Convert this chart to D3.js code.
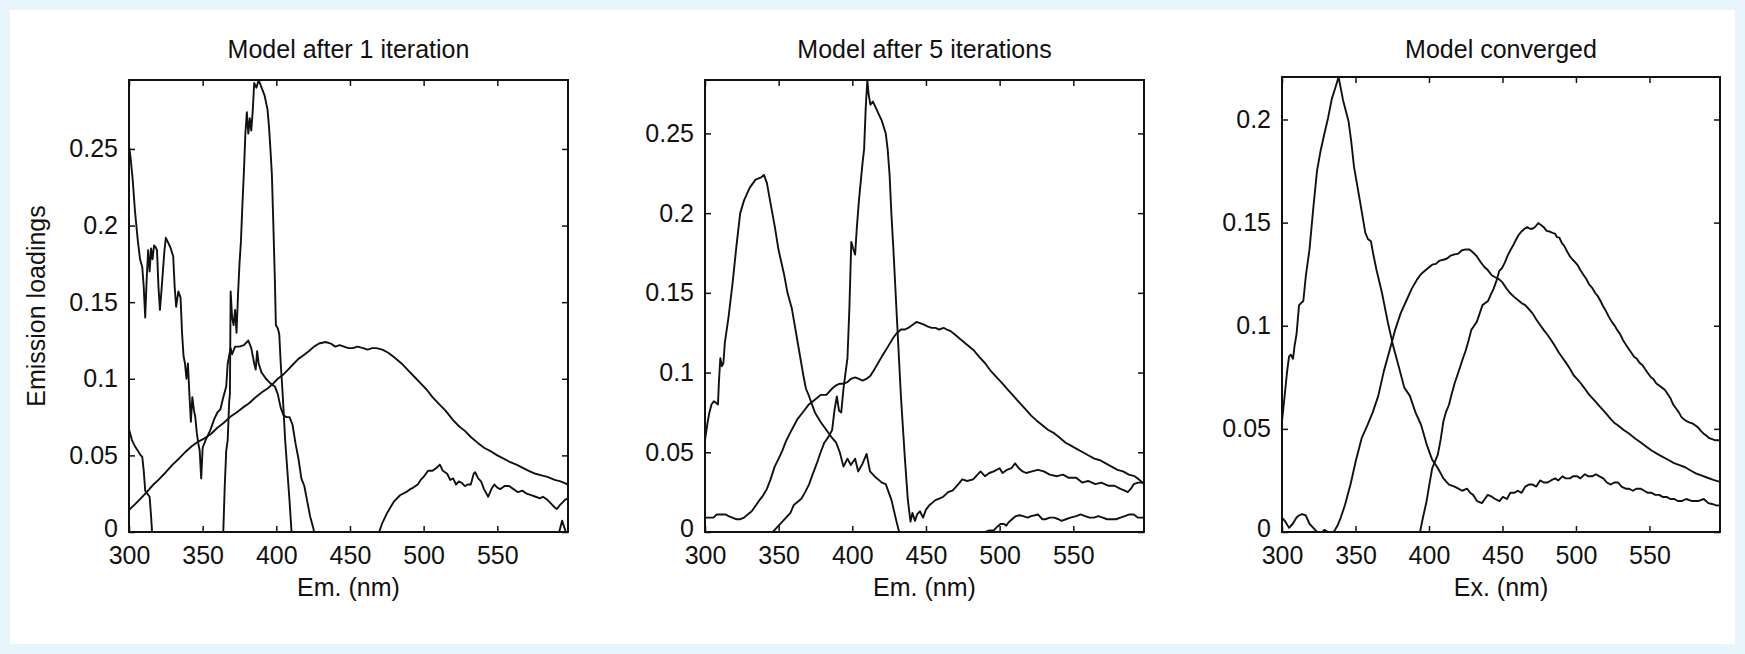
<!DOCTYPE html>
<html><head><meta charset="utf-8">
<script src="https://cdn.jsdelivr.net/npm/d3@7"></script>
<style>
html,body{margin:0;padding:0;background:#e9f5fd;}
svg{display:block;}
text{font-family:"Liberation Sans",Arial,Helvetica,sans-serif;fill:#111;}
</style></head><body>
<svg id="chart" width="1745" height="654"></svg>
<script>
// ---------- data ----------
const titles = ["Model after 1 iteration", "Model after 5 iterations", "Model converged"];
const xLabels = ["Em. (nm)", "Em. (nm)", "Ex. (nm)"];
const yLabel = "Emission loadings";
const xTicks = [300, 350, 400, 450, 500, 550];
const xDomain = [300, 598];
const yTicksA = [0, 0.05, 0.1, 0.15, 0.2, 0.25];
const yTicksB = [0, 0.05, 0.1, 0.15, 0.2];
const yMax = [0.295, 0.2835, 0.2206];

// panel 1
const p1a = [[300,0.252],[301,0.245],[302.5,0.23],[304,0.21],[306,0.19],[307.5,0.178],[309,0.173],[310,0.16],[311,0.14],[312,0.165],[313,0.184],[314,0.17],[315,0.185],[316,0.178],[317,0.187],[318,0.186],[319,0.184],[320,0.16],[321,0.145],[322,0.157],[323,0.17],[324,0.183],[325,0.192],[326,0.19],[328,0.186],[330,0.18],[331,0.16],[332,0.147],[333.5,0.157],[335,0.153],[336,0.13],[337,0.115],[338,0.11],[339,0.1],[340,0.11],[341,0.09],[342,0.072],[343,0.088],[344,0.08],[345,0.075],[346,0.065],[347,0.058],[348,0.053],[349,0.035],[350,0.055],[352,0.06],[355,0.066],[358,0.074],[360,0.078],[362,0.08],[364,0.088],[366,0.095],[367,0.11],[368,0.115],[369,0.12],[370,0.116],[372,0.121],[375,0.121],[378,0.122],[381,0.125],[383,0.12],[385,0.11],[386,0.106],[387,0.118],[388,0.11],[390,0.104],[393,0.1],[396,0.097],[399,0.095],[401,0.09],[403,0.081],[405,0.076],[407,0.075],[409,0.075],[411,0.07],[413,0.058],[415,0.048],[417,0.035],[419,0.03],[421,0.02],[423,0.01],[425,0.003],[427,-0.006],[430,-0.03],[598,-0.03]];
const p1b = [[300,-0.03],[362,-0.02],[364,0],[365,0.03],[366,0.053],[367,0.06],[368,0.085],[368.5,0.09],[369,0.157],[370,0.14],[371,0.135],[372,0.145],[373,0.13],[374,0.155],[375,0.175],[376,0.19],[377,0.214],[378,0.235],[379,0.26],[380,0.274],[381,0.26],[382,0.27],[383,0.262],[384,0.275],[385,0.293],[386.5,0.29],[388,0.295],[390,0.29],[392,0.285],[394,0.276],[395,0.265],[396,0.25],[397,0.233],[398,0.2],[399,0.165],[399.7,0.135],[401,0.133],[402,0.129],[403,0.11],[404,0.095],[405,0.078],[406,0.06],[407.5,0.04],[409,0.02],[410,0.005],[411,-0.01],[413,-0.03],[588,-0.03],[590.5,-0.005],[592,0],[594,0.0074],[596.5,0],[598,-0.01]];
const p1c = [[300,0.0144],[304,0.018],[308,0.022],[312,0.026],[316.6,0.031],[320,0.034],[325,0.039],[329.6,0.044],[334,0.048],[338,0.052],[342.6,0.056],[347,0.059],[351,0.061],[355.6,0.064],[360,0.068],[364,0.071],[368.5,0.075],[373,0.078],[377,0.081],[381.5,0.084],[386,0.088],[390,0.091],[394.5,0.094],[398,0.097],[401,0.1],[405,0.103],[408,0.106],[411,0.109],[415,0.113],[418,0.115],[422,0.118],[425.6,0.121],[429,0.123],[433.4,0.124],[437,0.123],[440,0.121],[443,0.122],[446,0.121],[449,0.12],[452,0.12],[455,0.121],[459,0.12],[462,0.119],[465,0.12],[468,0.12],[472,0.119],[476,0.117],[480,0.114],[485,0.11],[490,0.105],[494,0.101],[498,0.097],[502,0.093],[506,0.088],[511,0.083],[515,0.079],[520,0.073],[524,0.069],[528,0.066],[532,0.062],[537,0.058],[541,0.055],[545,0.053],[550,0.05],[554,0.048],[558,0.046],[563,0.044],[567,0.042],[571,0.04],[576,0.038],[580,0.037],[584,0.036],[589,0.034],[593,0.033],[598,0.031]];
const p1d = [[300,0.067],[302,0.06],[304,0.056],[306,0.053],[308,0.05],[309,0.049],[310,0.04],[311,0.027],[312.5,0.025],[314,0.023],[315,0.01],[316,-0.005],[318,-0.03],[466,-0.03],[469.8,0],[472,0.006],[475,0.012],[478,0.017],[480,0.02],[484,0.024],[488,0.026],[491,0.028],[493,0.029],[496,0.031],[498,0.034],[500,0.036],[503,0.04],[506,0.04],[509,0.042],[511,0.044],[513,0.04],[516,0.038],[518,0.034],[520,0.035],[522,0.031],[524,0.033],[526,0.032],[528,0.03],[530,0.031],[532,0.031],[534,0.038],[535,0.039],[537,0.035],[539,0.033],[541,0.028],[543.8,0.023],[546,0.028],[548,0.031],[550,0.029],[552,0.028],[555,0.03],[558,0.03],[561,0.028],[564,0.026],[567,0.027],[570,0.025],[573,0.024],[576,0.023],[579,0.022],[581,0.023],[584,0.021],[587,0.018],[589,0.016],[590.5,0.015],[592,0.017],[594,0.019],[596,0.021],[598,0.022]];

// panel 2
const p2a = [[300,0.0576],[301.8,0.069],[303,0.075],[304.4,0.08],[306,0.082],[307.5,0.081],[308.8,0.08],[309.5,0.095],[310.4,0.109],[311.5,0.104],[312.5,0.106],[313.5,0.119],[316,0.135],[318.7,0.156],[321.3,0.179],[323.9,0.2],[326.5,0.208],[330.4,0.216],[334.3,0.221],[338.2,0.2225],[340,0.224],[342,0.219],[344.7,0.205],[347.3,0.192],[349.9,0.177],[353.8,0.161],[356,0.15],[359,0.14],[362.9,0.119],[366.8,0.098],[368.5,0.09],[370.7,0.085],[374.6,0.075],[378.5,0.069],[382.4,0.064],[386.3,0.059],[389,0.056],[391.5,0.05],[394,0.041],[396.7,0.046],[399,0.042],[401.9,0.046],[404,0.038],[407,0.043],[409.7,0.049],[412,0.038],[415,0.035],[417.5,0.033],[420,0.031],[422.7,0.03],[426.6,0.02],[430,0.0065],[431.8,0],[433,-0.01],[436,-0.03],[598,-0.03]];
const p2b = [[300,-0.03],[344,-0.01],[346,0],[350,0.004],[355,0.009],[358,0.012],[360.3,0.017],[363,0.019],[365.5,0.021],[368,0.025],[370.7,0.03],[373,0.036],[375.9,0.043],[378.5,0.05],[381,0.056],[384,0.06],[386.3,0.064],[388,0.077],[389.5,0.085],[391,0.076],[392.5,0.075],[394,0.09],[396.7,0.109],[398,0.14],[399.3,0.182],[400.5,0.178],[401.9,0.174],[403,0.19],[404.5,0.208],[407,0.232],[408,0.24],[409.1,0.266],[410.2,0.2835],[411,0.275],[412.3,0.268],[414,0.27],[416,0.266],[418,0.262],[420,0.258],[422.7,0.25],[424,0.24],[425.3,0.224],[426.5,0.2],[427.9,0.177],[430.5,0.13],[433,0.085],[435.7,0.046],[437.7,0.02],[439.5,0.0065],[440.8,0.012],[442.5,0.007],[444,0.011],[445.9,0.013],[448,0.009],[450,0.014],[452.5,0.017],[456.4,0.02],[459,0.021],[461.6,0.022],[465,0.025],[468,0.026],[472,0.03],[474.6,0.033],[478,0.032],[482,0.033],[485,0.036],[487,0.038],[490,0.035],[493,0.037],[496,0.038],[500,0.04],[502,0.037],[505,0.039],[508,0.04],[510.5,0.043],[513,0.04],[515.6,0.038],[518,0.037],[522,0.038],[526,0.039],[530,0.038],[534,0.036],[539,0.035],[543,0.036],[547,0.034],[552,0.034],[556,0.031],[560,0.032],[565,0.03],[569,0.031],[574,0.029],[578,0.029],[582,0.027],[585,0.026],[587,0.025],[589,0.027],[591,0.03],[594,0.031],[598,0.031]];
const p2c = [[300,0.009],[302,0.009],[305.7,0.009],[308,0.011],[311,0.011],[314,0.011],[316,0.01],[318.5,0.009],[321,0.008],[324,0.008],[326.5,0.009],[329,0.011],[331.7,0.013],[334,0.016],[337,0.02],[339.5,0.023],[342,0.027],[344.5,0.033],[347.3,0.041],[350,0.046],[352.5,0.051],[355,0.057],[357.7,0.062],[360,0.066],[362.9,0.071],[365.5,0.074],[368,0.077],[370.5,0.08],[373.3,0.082],[376,0.084],[378.5,0.086],[382.4,0.086],[386.3,0.09],[389,0.092],[391.5,0.093],[394,0.093],[396.7,0.094],[399,0.096],[402,0.097],[404.5,0.096],[407,0.095],[409.5,0.096],[412.3,0.098],[415,0.102],[417.5,0.106],[420,0.11],[422.7,0.114],[425.3,0.118],[427.9,0.122],[430.5,0.125],[433,0.127],[435.5,0.127],[438,0.128],[441,0.13],[443.5,0.1317],[446,0.131],[448.6,0.13],[451,0.129],[453.8,0.128],[456.5,0.128],[459,0.127],[462,0.128],[464.2,0.127],[466.8,0.126],[469.4,0.124],[472,0.122],[474.6,0.12],[478.5,0.117],[482.4,0.114],[486,0.11],[490,0.106],[494,0.101],[498,0.097],[502,0.093],[505.8,0.089],[509.7,0.085],[513.6,0.081],[517.5,0.077],[521.4,0.073],[525,0.07],[529,0.067],[533,0.064],[537,0.062],[541,0.059],[544.8,0.056],[548.7,0.054],[552.6,0.052],[556.5,0.05],[560.4,0.048],[564.3,0.046],[568.2,0.045],[572,0.043],[576,0.041],[580,0.039],[583.8,0.038],[587.7,0.036],[591.6,0.035],[594.5,0.033],[598,0.03]];
const p2d = [[300,-0.03],[488,-0.01],[490.2,0],[493,0.001],[496,0.001],[498,0.003],[500.6,0.005],[503,0.005],[504.5,0.004],[506,0.006],[508.4,0.008],[511,0.01],[513.6,0.0105],[516,0.01],[519,0.009],[521.4,0.01],[524,0.0105],[526,0.011],[529,0.008],[531,0.008],[534,0.009],[537,0.009],[540,0.008],[542,0.007],[545,0.008],[548,0.009],[552,0.01],[555,0.011],[558,0.01],[561,0.009],[564,0.009],[567,0.01],[570,0.009],[573,0.008],[576,0.008],[579,0.008],[582,0.009],[585,0.01],[588,0.011],[591,0.011],[594,0.009],[598,0.009]];

// panel 3
const p3a = [[300,0.0536],[301.5,0.064],[303.5,0.078],[304.8,0.085],[306,0.086],[307.5,0.084],[308.5,0.09],[309.9,0.096],[311.6,0.11],[313,0.111],[314.5,0.112],[316.2,0.124],[318.7,0.137],[321.3,0.157],[323.8,0.175],[326.3,0.185],[328.8,0.193],[331.4,0.201],[333.9,0.21],[336.4,0.2156],[338.5,0.2206],[341.5,0.2095],[345.3,0.199],[347,0.19],[349,0.177],[352.9,0.161],[356.7,0.145],[358.5,0.142],[360.5,0.141],[362,0.135],[364.3,0.127],[368,0.116],[371.9,0.102],[375.7,0.09],[379.5,0.08],[383.2,0.07],[387,0.066],[390.8,0.058],[394.6,0.052],[398.4,0.0425],[402.2,0.035],[406,0.031],[409.8,0.026],[413.6,0.023],[417.4,0.022],[420,0.021],[422.5,0.02],[426,0.021],[428,0.019],[430,0.018],[432.7,0.015],[436,0.014],[438,0.016],[440,0.018],[443,0.017],[445,0.016],[448,0.015],[450.3,0.017],[453,0.016],[455.4,0.019],[458,0.019],[460.4,0.02],[463,0.019],[465.5,0.022],[468,0.023],[470.5,0.023],[473,0.022],[475.6,0.025],[478,0.024],[480.7,0.024],[483,0.025],[485.8,0.026],[488,0.025],[490.8,0.027],[493,0.026],[495.9,0.026],[498,0.027],[500.9,0.027],[503,0.026],[506,0.028],[508.5,0.027],[511,0.027],[513.6,0.028],[516,0.027],[518.6,0.026],[521,0.024],[523.7,0.023],[526,0.024],[528.7,0.024],[531,0.022],[533.8,0.021],[536,0.021],[538.8,0.02],[541,0.021],[543.9,0.021],[546.5,0.02],[549,0.019],[551.5,0.019],[554,0.018],[556.6,0.018],[559,0.017],[561.7,0.017],[564.2,0.016],[567,0.016],[569.3,0.015],[571.8,0.015],[575,0.016],[579,0.015],[583,0.015],[587,0.016],[590,0.014],[592.5,0.0136],[595,0.013],[598,0.0128]];
const p3b = [[300,0.007],[302.3,0.005],[304.8,0.002],[307.3,0.004],[309.9,0.007],[311.5,0.008],[313.7,0.0087],[316.2,0.008],[318.7,0.004],[321.3,0.002],[323.8,0],[326,-0.001],[328.8,0.001],[331.4,0],[334,-0.001],[336,0.001],[337.7,0.003],[340,0.007],[342.8,0.013],[346.6,0.023],[350.4,0.035],[354.2,0.0455],[358,0.0516],[361.7,0.058],[365.5,0.066],[369.3,0.078],[373.2,0.088],[377,0.098],[380.7,0.106],[384.5,0.112],[388.3,0.118],[392,0.1225],[394.5,0.125],[397,0.1265],[399.5,0.128],[402.2,0.1296],[404.7,0.13],[407.3,0.1316],[409.8,0.132],[412.3,0.1326],[414.8,0.134],[417.4,0.1346],[420,0.135],[422.5,0.1366],[425,0.137],[427.5,0.137],[430,0.1355],[432.6,0.1336],[435,0.131],[437.7,0.1285],[440,0.127],[442.7,0.1245],[445,0.1235],[447.8,0.1225],[450,0.121],[452.8,0.118],[455,0.116],[457.9,0.114],[460.5,0.1125],[463,0.111],[465.5,0.11],[468,0.108],[470.5,0.106],[473,0.103],[475.5,0.1005],[478,0.098],[480.7,0.0955],[483.2,0.093],[485.8,0.09],[488.3,0.087],[490.8,0.0845],[493.3,0.082],[496,0.079],[498.4,0.076],[501,0.074],[503.4,0.072],[506,0.0695],[508.5,0.067],[511,0.065],[513.6,0.063],[516,0.061],[518.6,0.059],[521,0.057],[523.7,0.0547],[526,0.053],[528.7,0.0516],[532.5,0.0495],[536.3,0.0476],[540,0.0455],[543.9,0.0435],[547.7,0.0415],[551.5,0.0395],[555,0.038],[559,0.0364],[563,0.0349],[566.7,0.0334],[570.5,0.0324],[574.3,0.0314],[578,0.0298],[581.9,0.0283],[585.7,0.0273],[589.5,0.0263],[593.5,0.0253],[598,0.0243]];
const p3c = [[300,-0.03],[392,-0.01],[393.9,0],[395.9,0.007],[398.4,0.015],[400,0.022],[402.2,0.031],[404,0.034],[406,0.0375],[408,0.045],[409.8,0.0536],[411.5,0.058],[413.6,0.0617],[415.5,0.067],[417.4,0.072],[419.3,0.076],[421.2,0.08],[423,0.084],[425,0.088],[427,0.093],[428.8,0.098],[430.7,0.1],[432.6,0.102],[434.5,0.106],[436.4,0.11],[438.3,0.111],[440.2,0.112],[442,0.115],[444,0.118],[446,0.122],[447.8,0.1265],[449.7,0.128],[451.6,0.1306],[453.5,0.134],[455.4,0.1366],[457.3,0.139],[459.2,0.1417],[461,0.144],[463,0.1457],[465,0.147],[466.8,0.1478],[468.7,0.147],[470.5,0.147],[472.4,0.148],[474.3,0.1498],[476,0.149],[478.1,0.1478],[480,0.146],[481.9,0.1457],[484,0.145],[485.7,0.1447],[487,0.143],[488.7,0.1427],[490.5,0.14],[492,0.1387],[494,0.136],[495.9,0.1336],[497.8,0.132],[499.7,0.1306],[501.5,0.129],[503.4,0.1265],[505.3,0.1245],[507.2,0.1225],[509,0.12],[511,0.1184],[513,0.116],[514.8,0.1144],[516.7,0.112],[518.6,0.1093],[520.5,0.107],[522.4,0.1043],[524.3,0.102],[526.2,0.1002],[528,0.098],[530,0.096],[532,0.093],[533.8,0.091],[535.7,0.089],[537.6,0.087],[539.5,0.085],[541.4,0.084],[543.3,0.082],[545.2,0.081],[547,0.079],[549,0.077],[551,0.075],[552.8,0.074],[554.7,0.072],[556.6,0.071],[558.5,0.07],[560.4,0.069],[562.3,0.067],[564.2,0.065],[566,0.062],[568,0.06],[570,0.058],[571.8,0.0557],[573.7,0.0545],[575.6,0.0536],[577.5,0.053],[579.4,0.0526],[581.3,0.0516],[583.2,0.0506],[585,0.049],[587,0.0476],[589,0.0465],[590.7,0.0455],[592.6,0.045],[594.5,0.0445],[598,0.0445]];

// ---------- layout ----------
const boxes = [
  {l:129, r:568, t:80, b:532},
  {l:705, r:1144, t:80, b:532},
  {l:1282, r:1720, t:77, b:532}
];
const seriesByPanel = [[p1a,p1b,p1c,p1d],[p2a,p2b,p2c,p2d],[p3a,p3b,p3c]];
const yTicksByPanel = [yTicksA, yTicksA, yTicksB];

const svg = d3.select("#chart");
svg.append("rect").attr("x",0).attr("y",0).attr("width",1745).attr("height",654).attr("fill","#e9f5fd");
svg.append("rect").attr("x",10).attr("y",10).attr("width",1725).attr("height",634).attr("fill","#ffffff");

const FS = 25;
const INK = "#111";

boxes.forEach((bx, i) => {
  const x = d3.scaleLinear().domain(xDomain).range([bx.l, bx.r]);
  const y = d3.scaleLinear().domain([0, yMax[i]]).range([bx.b, bx.t]);
  const g = svg.append("g");

  g.append("clipPath").attr("id", "clip" + i)
    .append("rect").attr("x", bx.l).attr("y", bx.t).attr("width", bx.r - bx.l).attr("height", bx.b - bx.t);

  const line = d3.line().x(d => x(d[0])).y(d => y(d[1]));
  g.append("g").attr("clip-path", `url(#clip${i})`)
    .selectAll("path").data(seriesByPanel[i]).join("path")
    .attr("d", line).attr("fill", "none").attr("stroke", INK)
    .attr("stroke-width", 1.9).attr("stroke-linejoin", "round");

  const styleAxis = sel => {
    sel.select(".domain").remove();
    sel.selectAll(".tick line").attr("stroke", INK).attr("stroke-width", 1.5);
    sel.selectAll(".tick text").attr("fill", INK).style("font-size", FS + "px")
      .style("font-family", '"Liberation Sans", Arial, sans-serif');
  };

  g.append("g").attr("transform", `translate(0,${bx.b})`)
    .call(d3.axisBottom(x).tickValues(xTicks).tickSize(-6).tickPadding(14).tickFormat(d => String(d)))
    .call(styleAxis);
  g.append("g").attr("transform", `translate(0,${bx.t})`)
    .call(d3.axisTop(x).tickValues(xTicks).tickSize(-6).tickFormat(""))
    .call(styleAxis);
  const yAx = g.append("g").attr("transform", `translate(${bx.l},0)`)
    .call(d3.axisLeft(y).tickValues(yTicksByPanel[i]).tickSize(-6).tickPadding(11).tickFormat(d => String(d)))
    .call(styleAxis);
  // nudge the "0" label up slightly so it clears the x tick labels
  yAx.selectAll(".tick text").filter(d => d === 0).attr("y", -4);
  g.append("g").attr("transform", `translate(${bx.r},0)`)
    .call(d3.axisRight(y).tickValues(yTicksByPanel[i]).tickSize(-6).tickFormat(""))
    .call(styleAxis);

  g.append("rect").attr("x", bx.l).attr("y", bx.t).attr("width", bx.r - bx.l).attr("height", bx.b - bx.t)
    .attr("fill", "none").attr("stroke", INK).attr("stroke-width", 2);

  const cx = (bx.l + bx.r) / 2;
  g.append("text").attr("x", cx).attr("y", 58).attr("text-anchor", "middle")
    .style("font-size", FS + "px").text(titles[i]);
  g.append("text").attr("x", cx).attr("y", 596).attr("text-anchor", "middle")
    .style("font-size", FS + "px").text(xLabels[i]);
  if (i === 0) {
    g.append("text").attr("transform", `translate(45,${(bx.t + bx.b) / 2}) rotate(-90)`)
      .attr("text-anchor", "middle").style("font-size", FS + "px").text(yLabel);
  }
});
</script>
</body></html>
